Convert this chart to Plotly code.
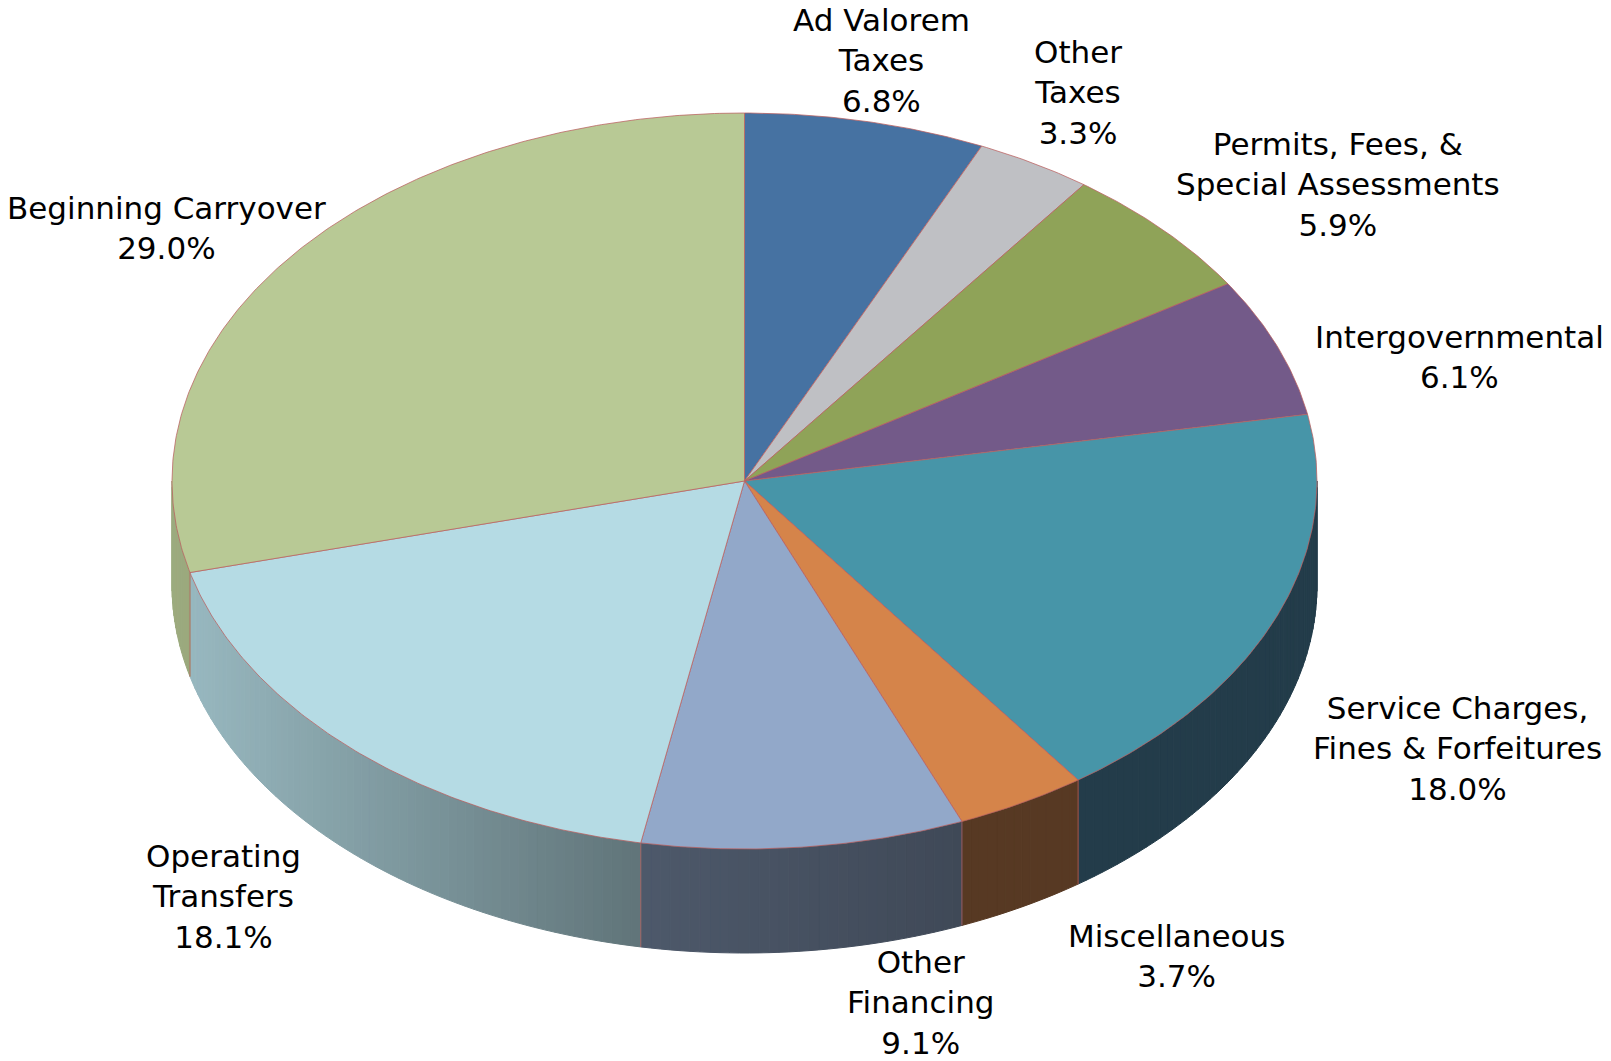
import numpy as np
import plotly.graph_objects as go

# ---------------- data ----------------
categories = [
    "Ad Valorem Taxes",
    "Other Taxes",
    "Permits, Fees, & Special Assessments",
    "Intergovernmental",
    "Service Charges, Fines & Forfeitures",
    "Miscellaneous",
    "Other Financing",
    "Operating Transfers",
    "Beginning Carryover",
]
label_texts = [
    "Ad Valorem<br>Taxes",
    "Other<br>Taxes",
    "Permits, Fees, &<br>Special Assessments",
    "Intergovernmental",
    "Service Charges,<br>Fines & Forfeitures",
    "Miscellaneous",
    "Other<br>Financing",
    "Operating<br>Transfers",
    "Beginning Carryover",
]
shares = [6.8, 3.3, 5.9, 6.1, 18.0, 3.7, 9.1, 18.1, 29.0]

# ---------------- style ----------------
top_colors = [
    (70, 114, 162),   # Ad Valorem
    (191, 192, 196),  # Other Taxes
    (143, 163, 88),   # Permits
    (115, 90, 137),   # Intergovernmental
    (71, 149, 168),   # Service Charges
    (213, 132, 74),   # Miscellaneous
    (146, 168, 201),  # Other Financing
    (181, 219, 228),  # Operating Transfers
    (184, 201, 149),  # Beginning Carryover
]
# per-channel tint applied to side walls (slight hue shift of the shading)
side_tint = [
    (1, 1, 1), (1, 1, 1), (1, 1, 1), (1, 1, 1),
    (1.15, 0.93, 1.02),  # Service Charges side is bluish
    (0.95, 1.0, 1.1),
    (1, 1, 1), (1, 1, 1), (1, 1, 1),
]
# label block centres (pixel layout positions)
label_pos = [
    (881, 60), (1078, 92), (1338, 184), (1459, 357), (1457, 748),
    (1176, 956), (920, 1002), (223, 896), (166, 228),
]
W, H = 1611, 1061
CX, CY, RX, RY, DEPTH = 744.5, 481.0, 572.5, 368.0, 104.0
EDGE = "rgba(185,95,95,0.75)"
FONT = dict(family="DejaVu Sans", size=31, color="black")


def pt(t_deg, dy=0.0):
    t = np.radians(t_deg)
    return CX + RX * np.sin(t), CY - RY * np.cos(t) + dy


def shade(u):
    return float(np.interp(u, [-1.0, -0.18, 0.4, 1.0], [0.85, 0.53, 0.43, 0.43]))


def rgb(c, f=1.0, tint=(1, 1, 1)):
    return "rgb(%d,%d,%d)" % tuple(int(round(min(255, v * f * k))) for v, k in zip(c, tint))


total = float(sum(shares))
cum = np.concatenate([[0.0], np.cumsum(shares)]) / total * 360.0

fig = go.Figure()

# ---- side walls (front half: 90..270 deg) ----
for i in range(len(shares)):
    a0, a1 = max(cum[i], 90.0), min(cum[i + 1], 270.0)
    if a1 <= a0:
        continue
    n = int(np.ceil((a1 - a0) / 1.0))
    ts = np.linspace(a0, a1, n + 1)
    for ta, tb in zip(ts[:-1], ts[1:]):
        x1, y1 = pt(ta)
        x2, y2 = pt(tb)
        x3, y3 = pt(tb, DEPTH)
        x4, y4 = pt(ta, DEPTH)
        u = np.sin(np.radians((ta + tb) / 2))
        col = rgb(top_colors[i], shade(u), side_tint[i])
        fig.add_trace(go.Scatter(
            x=[x1, x2, x3, x4, x1], y=[y1, y2, y3, y4, y1],
            mode="lines", fill="toself", fillcolor=col,
            line=dict(color=col, width=1), hoverinfo="skip", showlegend=False))

# vertical edges between slices on the side
for b in cum[1:-1]:
    if 90.0 < b < 270.0:
        x1, y1 = pt(b)
        x2, y2 = pt(b, DEPTH)
        fig.add_trace(go.Scatter(x=[x1, x2], y=[y1, y2], mode="lines",
                                 line=dict(color=EDGE, width=1),
                                 hoverinfo="skip", showlegend=False))

# ---- top faces ----
for i in range(len(shares)):
    ts = np.linspace(cum[i], cum[i + 1], max(3, int(np.ceil(cum[i + 1] - cum[i])) * 2))
    xs = [CX] + [pt(t)[0] for t in ts] + [CX]
    ys = [CY] + [pt(t)[1] for t in ts] + [CY]
    fig.add_trace(go.Scatter(
        x=xs, y=ys, mode="lines", fill="toself", fillcolor=rgb(top_colors[i]),
        line=dict(color=EDGE, width=1), hoverinfo="skip", showlegend=False,
        name=categories[i]))

# ---- labels ----
for i, (txt, v) in enumerate(zip(label_texts, shares)):
    lx, ly = label_pos[i]
    fig.add_annotation(x=lx, y=ly, xref="x", yref="y",
                       text=f"{txt}<br>{v:.1f}%", showarrow=False,
                       font=FONT, align="center",
                       xanchor="center", yanchor="middle")

fig.update_layout(
    width=W, height=H, autosize=False,
    margin=dict(l=0, r=0, t=0, b=0),
    paper_bgcolor="white", plot_bgcolor="white",
    xaxis=dict(range=[0, W], visible=False, fixedrange=True),
    yaxis=dict(range=[H, 0], visible=False, fixedrange=True),
    showlegend=False,
)

fig.write_html("out.html")
